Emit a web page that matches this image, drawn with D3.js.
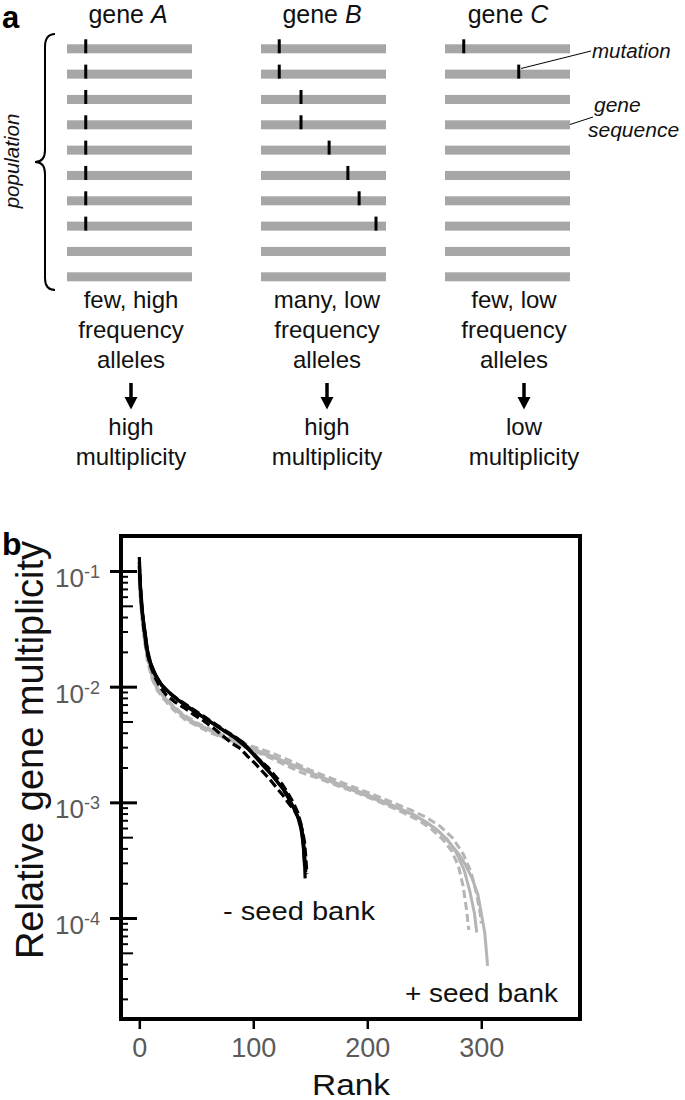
<!DOCTYPE html>
<html lang="en">
<head>
<meta charset="utf-8">
<title>gene multiplicity</title>
<style>
  body { margin: 0; background: #fff; }
  svg { display: block; font-family: "Liberation Sans", Arial, sans-serif; }
</style>
</head>
<body>
<svg id="fig" width="685" height="1100"></svg>
<script src="https://cdn.jsdelivr.net/npm/d3@7"></script>
<script>
// ---------- panel a data
var geneNames = ["A", "B", "C"];
var popSize = 10;
// position of the mutation along the gene (0..1), row i = individual i
var mutA = [0.15, 0.15, 0.15, 0.15, 0.15, 0.15, 0.15, 0.15];
var mutB = [0.146, 0.146, 0.32, 0.32, 0.545, 0.695, 0.785, 0.92];
var mutC = [0.15, 0.59];
var alleleText = [["few, high", "frequency", "alleles"], ["many, low", "frequency", "alleles"], ["few, low", "frequency", "alleles"]];
var multText = [["high", "multiplicity"], ["high", "multiplicity"], ["low", "multiplicity"]];

// ---------- panel b data (rank vs relative gene multiplicity)
var xTicks = [0, 100, 200, 300];
var yMajor = [1e-1, 1e-2, 1e-3, 1e-4];

// - seed bank replicates
var minusRank1 = [0,1,2,3,5,8,11,15,20,27,34,42,50,59,68,77,85,91,97,103,110,117,123,129,134,138,141,143,144,145,145.5];
var minusVal1  = [0.132,0.075,0.056,0.042,0.029,0.018,0.0148,0.0122,0.0102,0.0088,0.0077,0.0068,0.0060,0.0052,0.0046,0.0040,0.0036,0.0033,0.0028,0.0024,0.0020,0.00169,0.00142,0.00121,0.00095,0.00080,0.00067,0.00052,0.00040,0.00030,0.00022];
var minusRank2 = [0,1,2,4,6,9,13,18,24,31,39,47,56,65,74,82,89,95,101,107,114,120,126,131,136,140,143,145,146,147];
var minusVal2  = [0.12,0.07,0.05,0.034,0.022,0.016,0.0125,0.0100,0.0084,0.0074,0.0066,0.0058,0.0051,0.0044,0.0037,0.0032,0.0029,0.0025,0.0022,0.0019,0.0016,0.00135,0.00115,0.00098,0.00085,0.00072,0.00058,0.00045,0.00034,0.00024];
var minusRank3 = [0,1,2,3,5,7,10,14,19,25,32,40,48,57,66,75,84,92,99,106,113,119,125,130,135,139,142,144,145];
var minusVal3  = [0.11,0.07,0.052,0.04,0.03,0.021,0.016,0.0128,0.0106,0.0091,0.0079,0.0069,0.0061,0.0054,0.0047,0.0041,0.0036,0.0031,0.0027,0.0023,0.0019,0.0016,0.00135,0.00112,0.00092,0.00075,0.00058,0.00042,0.00028];
var minusRank4 = [0,2,4,7,10,14,19,25,32,40,48,57,66,75,84,92,99,106,113,119,125,130,135,139,142,144,145,146];
var minusVal4  = [0.1,0.05,0.031,0.02,0.0155,0.0125,0.0104,0.0090,0.0080,0.0071,0.0063,0.0055,0.0048,0.0042,0.0037,0.0032,0.0027,0.0023,0.0020,0.0017,0.00145,0.00122,0.00100,0.00082,0.00064,0.00048,0.00036,0.00025];

// + seed bank replicates
var plusRank1 = [0,1,2,3,5,8,12,16,22,30,40,50,62,75,94,110,125,141,155,170,185,200,215,229,242,252,262,272,280,286,292,297,300,303,305,305.5];
var plusVal1  = [0.09,0.06,0.045,0.034,0.025,0.017,0.0115,0.0095,0.0080,0.0066,0.0054,0.0047,0.0042,0.0036,0.0030,0.0026,0.0023,0.0020,0.0017,0.00148,0.0013,0.00113,0.00099,0.00087,0.00077,0.00067,0.00057,0.00045,0.00036,0.00029,0.00022,0.00016,0.00011,0.000075,0.000045,0.0000385];
var plusRank2 = [0,2,4,7,11,16,22,30,40,52,65,80,96,112,128,143,158,173,188,203,218,232,245,256,266,274,280,284,287,289];
var plusVal2  = [0.08,0.042,0.027,0.017,0.0118,0.0092,0.0077,0.0063,0.0052,0.0045,0.0039,0.0034,0.0029,0.0025,0.0021,0.0018,0.0016,0.00140,0.00124,0.00108,0.00094,0.00081,0.00070,0.00059,0.00048,0.00038,0.00028,0.00019,0.00012,0.000079];
var plusRank3 = [0,1,3,6,10,15,21,28,37,47,58,70,85,100,117,133,150,165,180,195,210,225,238,250,260,270,278,285,290,294,296];
var plusVal3  = [0.085,0.058,0.036,0.021,0.0135,0.0100,0.0083,0.0070,0.0058,0.0050,0.0044,0.0038,0.0033,0.0029,0.0025,0.0021,0.00182,0.00158,0.00138,0.00122,0.00106,0.00092,0.00080,0.00069,0.00059,0.00048,0.00037,0.00026,0.00017,0.00011,0.000075];
var plusRank4 = [0,2,5,9,14,20,28,38,50,64,80,97,115,132,150,168,186,204,222,238,252,264,275,284,291,296,299,300];
var plusVal4  = [0.095,0.05,0.026,0.0155,0.0108,0.0087,0.0071,0.0058,0.0049,0.0042,0.0036,0.0031,0.0027,0.0023,0.0019,0.00162,0.00138,0.00118,0.00100,0.00086,0.00074,0.00062,0.00049,0.00036,0.00025,0.00016,0.00011,0.00009];

var svg = d3.select("#fig");
var black = "#111", gray = "#5a5a5a", barGray = "#a6a6a6", curveGray = "#b5b5b5";

// ======================= panel a =======================
svg.append("text").attr("x", 2).attr("y", 28).attr("font-size", 31).attr("font-weight", "bold").text("a");

var geneLeft = [67, 261, 445], geneW = 125;
var titleX = [128, 322, 508], textX = [131, 327, 514], multX = [131, 327, 524];
var muts = [mutA, mutB, mutC];
var rowY = d3.scaleLinear().domain([0, popSize - 1]).range([48.8, 276.8]);

geneNames.forEach(function(g, gi) {
  var pos = d3.scaleLinear().domain([0, 1]).range([geneLeft[gi], geneLeft[gi] + geneW]);
  var col = svg.append("g");

  col.append("text").attr("x", titleX[gi]).attr("y", 23).attr("font-size", 25)
    .attr("text-anchor", "middle").attr("fill", black)
    .call(function(t) {
      t.append("tspan").text("gene ");
      t.append("tspan").attr("font-style", "italic").text(g);
    });

  col.selectAll("rect.seq").data(d3.range(popSize)).enter().append("rect")
    .attr("class", "seq")
    .attr("x", pos(0)).attr("width", geneW)
    .attr("y", function(d) { return rowY(d) - 4.5; }).attr("height", 9)
    .attr("fill", barGray);

  col.selectAll("rect.mut").data(muts[gi]).enter().append("rect")
    .attr("class", "mut")
    .attr("x", function(d) { return pos(d) - 1.5; }).attr("width", 3)
    .attr("y", function(d, i) { return rowY(i) - 9.5; }).attr("height", 14)
    .attr("fill", "#000");

  alleleText[gi].forEach(function(s, li) {
    col.append("text").attr("x", textX[gi]).attr("y", 308 + li * 30)
      .attr("font-size", 24).attr("text-anchor", "middle").attr("fill", black).text(s);
  });

  // arrow
  var ax = multX[gi];
  col.append("line").attr("x1", ax).attr("x2", ax).attr("y1", 383).attr("y2", 400)
    .attr("stroke", "#000").attr("stroke-width", 3.5);
  col.append("path").attr("d", "M" + (ax - 6.5) + ",397L" + (ax + 6.5) + ",397L" + ax + ",409.5Z").attr("fill", "#000");

  multText[gi].forEach(function(s, li) {
    col.append("text").attr("x", multX[gi]).attr("y", 435 + li * 30)
      .attr("font-size", 24).attr("text-anchor", "middle").attr("fill", black).text(s);
  });
});

// brace + population label
svg.append("path")
  .attr("d", "M55,34C48,34 45,38 45,47L45,150C45,158 42,162 35,162C42,162 45,166 45,174L45,278C45,286 48,290 55,290")
  .attr("fill", "none").attr("stroke", "#000").attr("stroke-width", 2);
svg.append("text").attr("transform", "translate(19,161) rotate(-90)")
  .attr("text-anchor", "middle").attr("font-size", 20.5).attr("font-style", "italic")
  .attr("fill", black).text("population");

// annotations on gene C
svg.append("line").attr("x1", 521).attr("y1", 68.5).attr("x2", 591).attr("y2", 51)
  .attr("stroke", "#000").attr("stroke-width", 1);
svg.append("text").attr("x", 592).attr("y", 58).attr("font-size", 20.5).attr("font-style", "italic")
  .attr("fill", black).text("mutation");
svg.append("line").attr("x1", 570).attr("y1", 124.5).attr("x2", 593).attr("y2", 117)
  .attr("stroke", "#000").attr("stroke-width", 1);
svg.append("text").attr("x", 594).attr("y", 112).attr("font-size", 21).attr("font-style", "italic")
  .attr("fill", black).text("gene");
svg.append("text").attr("x", 588).attr("y", 137).attr("font-size", 21).attr("font-style", "italic")
  .attr("fill", black).text("sequence");

// ======================= panel b =======================
svg.append("text").attr("x", 2).attr("y", 555).attr("font-size", 32).attr("font-weight", "bold").text("b");

var L = 121, R = 580, T = 536, B = 1019;
var x = d3.scaleLinear().domain([-16.05, 386.6]).range([L, R]);
var y = d3.scaleLog().domain([Math.pow(10, -4.873), Math.pow(10, -0.6974)]).range([B, T]);

var line = d3.line()
  .x(function(d) { return x(d[0]); })
  .y(function(d) { return y(d[1]); });

var plusRuns = [
  { r: plusRank1, v: plusVal1, dash: null },
  { r: plusRank2, v: plusVal2, dash: "8,4" },
  { r: plusRank3, v: plusVal3, dash: null },
  { r: plusRank4, v: plusVal4, dash: "8,4" }
];
var minusRuns = [
  { r: minusRank1, v: minusVal1, dash: null },
  { r: minusRank2, v: minusVal2, dash: "9,4" },
  { r: minusRank3, v: minusVal3, dash: null },
  { r: minusRank4, v: minusVal4, dash: "9,4" }
];

var curves = svg.append("g");
curves.selectAll("path.plus").data(plusRuns).enter().append("path")
  .attr("class", "plus")
  .attr("d", function(d) { return line(d3.zip(d.r, d.v)); })
  .attr("fill", "none").attr("stroke", curveGray).attr("stroke-width", 3)
  .attr("stroke-dasharray", function(d) { return d.dash; })
  .attr("stroke-linejoin", "round");
curves.selectAll("path.minus").data(minusRuns).enter().append("path")
  .attr("class", "minus")
  .attr("d", function(d) { return line(d3.zip(d.r, d.v)); })
  .attr("fill", "none").attr("stroke", "#000").attr("stroke-width", 3.2)
  .attr("stroke-dasharray", function(d) { return d.dash; })
  .attr("stroke-linejoin", "round");

// frame
svg.append("rect").attr("x", L).attr("y", T).attr("width", R - L).attr("height", B - T)
  .attr("fill", "none").attr("stroke", "#000").attr("stroke-width", 4);

// y axis: major ticks cross the frame, minor ticks point inside
var minorFive = [], minorOther = [];
[-5, -4, -3, -2].forEach(function(e) {
  for (var m = 2; m <= 9; m++) {
    var v = m * Math.pow(10, e);
    if (v > y.domain()[0] && v < 0.1) (m === 5 ? minorFive : minorOther).push(v);
  }
});
function strip(g) { g.select(".domain").remove(); }
function tickAxis(axis, width) {
  svg.append("g").attr("transform", "translate(" + L + ",0)")
    .call(axis.tickFormat(""))
    .call(strip)
    .call(function(g) { g.selectAll(".tick line").attr("stroke", "#000").attr("stroke-width", width); });
}
tickAxis(d3.axisLeft(y).tickValues(yMajor).tickSize(11), 3);
tickAxis(d3.axisRight(y).tickValues(yMajor).tickSize(16), 3);
tickAxis(d3.axisRight(y).tickValues(minorFive).tickSize(12), 2);
tickAxis(d3.axisRight(y).tickValues(minorOther).tickSize(7), 2);

// y tick labels 10^-n
svg.append("g").selectAll("text").data(yMajor).enter().append("text")
  .attr("x", 100).attr("y", function(d) { return y(d) + 16; })
  .attr("text-anchor", "end").attr("fill", gray).attr("font-size", 26)
  .each(function(d) {
    var t = d3.select(this);
    t.append("tspan").text("10");
    t.append("tspan").attr("dy", -9).attr("font-size", 18).text(String(Math.round(Math.log10(d))));
  });

// x axis
svg.append("g").attr("transform", "translate(0," + B + ")")
  .call(d3.axisBottom(x).tickValues(xTicks).tickSize(10).tickPadding(9).tickFormat(d3.format("d")))
  .call(strip)
  .call(function(g) {
    g.selectAll(".tick line").attr("stroke", "#000").attr("stroke-width", 2.5);
    g.selectAll(".tick text").attr("fill", gray).attr("font-size", 27)
      .attr("font-family", "'Liberation Sans', Arial, sans-serif");
  });

// axis titles
svg.append("text").attr("x", 351).attr("y", 1095).attr("text-anchor", "middle")
  .attr("font-size", 29).attr("fill", black)
  .attr("textLength", 78).attr("lengthAdjust", "spacingAndGlyphs").text("Rank");
svg.append("text").attr("transform", "translate(43,750) rotate(-90)").attr("text-anchor", "middle")
  .attr("font-size", 38).attr("fill", black).text("Relative gene multiplicity");

// group labels
svg.append("text").attr("x", 223).attr("y", 920).attr("font-size", 25).attr("fill", black)
  .attr("textLength", 152).attr("lengthAdjust", "spacingAndGlyphs").text("- seed bank");
svg.append("text").attr("x", 405).attr("y", 1002).attr("font-size", 25).attr("fill", black)
  .attr("textLength", 153).attr("lengthAdjust", "spacingAndGlyphs").text("+ seed bank");
</script>
</body>
</html>
